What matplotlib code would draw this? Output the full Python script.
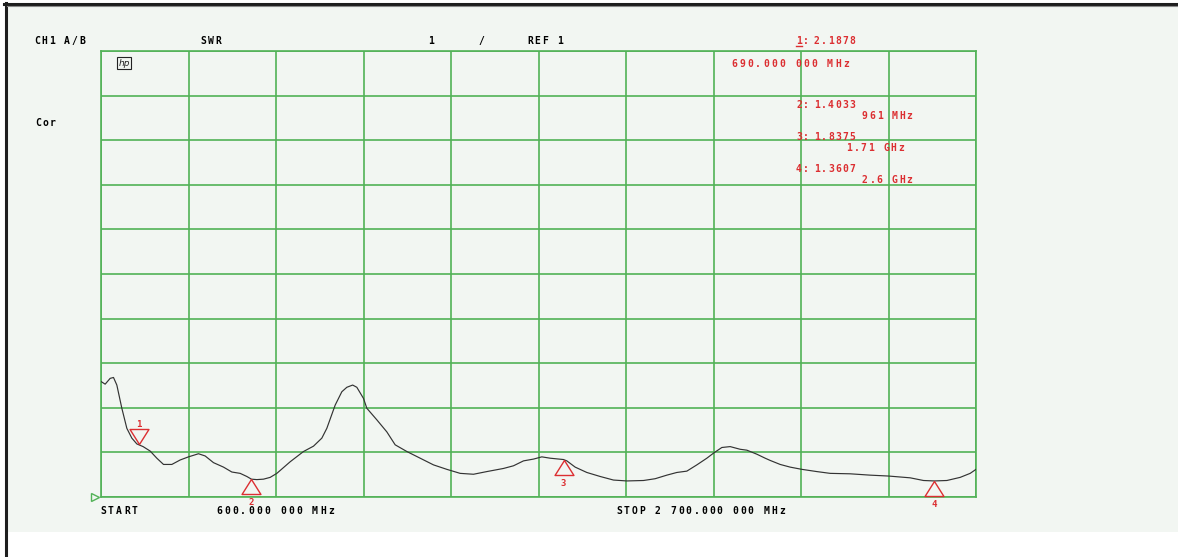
import matplotlib
matplotlib.use("Agg")
import matplotlib.pyplot as plt
import matplotlib.transforms as mtransforms
from matplotlib.patches import Rectangle
from matplotlib.lines import Line2D
from matplotlib.path import Path

# ---------------- data ----------------
freq_mhz = [600, 610, 622, 630, 638, 650, 662, 674, 686, 701, 718, 734, 750, 770, 790,
            810, 834, 850, 870, 894, 914, 934, 950, 961, 974, 990, 1006, 1022, 1054,
            1086, 1110, 1130, 1142, 1162, 1178, 1190, 1204, 1214, 1230, 1238, 1262,
            1286, 1306, 1334, 1366, 1398, 1430, 1462, 1494, 1526, 1566, 1590, 1614,
            1638, 1658, 1678, 1710, 1718, 1738, 1766, 1798, 1830, 1862, 1902, 1930,
            1958, 1982, 2006, 2030, 2054, 2071, 2090, 2110, 2134, 2150, 2174, 2194,
            2206, 2230, 2254, 2282, 2318, 2350, 2398, 2446, 2490, 2542, 2574, 2600,
            2630, 2662, 2686, 2700]
swr = [3.59, 3.53, 3.66, 3.68, 3.51, 2.99, 2.54, 2.32, 2.19, 2.13, 2.03, 1.87, 1.73,
       1.73, 1.83, 1.90, 1.97, 1.92, 1.77, 1.67, 1.56, 1.53, 1.46, 1.40, 1.39, 1.40,
       1.44, 1.53, 1.79, 2.02, 2.14, 2.32, 2.54, 3.06, 3.36, 3.46, 3.51, 3.46, 3.21,
       2.99, 2.73, 2.46, 2.17, 2.02, 1.87, 1.72, 1.62, 1.53, 1.51, 1.57, 1.64, 1.70,
       1.81, 1.85, 1.90, 1.87, 1.84, 1.81, 1.67, 1.55, 1.46, 1.38, 1.36, 1.37, 1.41,
       1.49, 1.55, 1.58, 1.72, 1.87, 1.99, 2.11, 2.13, 2.07, 2.05, 1.96, 1.87, 1.82,
       1.73, 1.67, 1.62, 1.57, 1.53, 1.52, 1.49, 1.47, 1.43, 1.37, 1.36, 1.37, 1.44,
       1.53, 1.62]

marker_ids = ["1", "2", "3", "4"]
marker_freq = [690, 961, 1710, 2600]
marker_swr = [2.1878, 1.4033, 1.8375, 1.3607]
marker_vals = ["2.1878", "1.4033", "1.8375", "1.3607"]
marker_freq_lbl = ["690.000 000 MHz", "961 MHz", "1.71 GHz", "2.6 GHz"]

start_mhz = 600
stop_mhz = 2700
ref_swr = 1
per_div = 1
n_div = 10

# ---------------- figure ----------------
W, H = 1178, 557
fig = plt.figure(figsize=(W / 100, H / 100), dpi=100)
fig.patch.set_facecolor("white")


def fx(x):
    return x / W


def fy(y):
    return 1 - y / H


bg = "#f2f6f2"
fig.add_artist(Rectangle((fx(7), fy(532)), 1 - fx(7), fy(5) - fy(532),
                         transform=fig.transFigure, facecolor=bg,
                         edgecolor="none", zorder=-5))
fig.add_artist(Line2D([fx(4), 1], [fy(4), fy(4)], transform=fig.transFigure,
                      color="#1e1e1e", lw=2.2, zorder=-4))
fig.add_artist(Line2D([fx(5.5), fx(5.5)], [0, fy(3)], transform=fig.transFigure,
                      color="#1e1e1e", lw=2.2, zorder=-4))
fig.add_artist(Line2D([fx(7), 1], [fy(6.2), fy(6.2)], transform=fig.transFigure,
                      color="#8a8a8a", lw=0.8, zorder=-4))

ax = fig.add_axes([fx(101), fy(497), fx(976) - fx(101), fy(51) - fy(497)])
ax.set_zorder(1)
ax.set_facecolor(bg)
green = "#52b257"
step = (stop_mhz - start_mhz) / n_div
ax.set_xlim(start_mhz, stop_mhz)
ax.set_ylim(ref_swr, ref_swr + per_div * n_div)
ax.set_xticks([start_mhz + i * step for i in range(n_div + 1)])
ax.set_yticks([ref_swr + i * per_div for i in range(n_div + 1)])
ax.grid(True, color=green, lw=1.2)
ax.set_axisbelow(True)
ax.tick_params(length=0, labelbottom=False, labelleft=False)
for s in ax.spines.values():
    s.set_color(green)
    s.set_linewidth(1.2)

ax.plot(freq_mhz, swr, color="#333333", lw=0.85, zorder=3)

red = "#dc2f32"
mono_font = "DejaVu Sans Mono"
up_tri = Path([(0, 0), (-0.63, -1), (0.63, -1), (0, 0)],
              [Path.MOVETO, Path.LINETO, Path.LINETO, Path.CLOSEPOLY])
down_tri = Path([(0, 0), (-0.63, 1), (0.63, 1), (0, 0)],
                [Path.MOVETO, Path.LINETO, Path.LINETO, Path.CLOSEPOLY])
for i, (mid, mf, ms_) in enumerate(zip(marker_ids, marker_freq, marker_swr)):
    if i == 0:
        ax.plot([mf], [ms_], marker=down_tri, ms=21.6, mfc="none", mec=red,
                mew=1.0, zorder=4)
        ax.annotate(mid, (mf, ms_), xytext=(0, 14), textcoords="offset points",
                    ha="center", va="center", color=red, fontsize=6.5,
                    fontweight="bold", family=mono_font)
    else:
        ax.plot([mf], [ms_], marker=up_tri, ms=21.6, mfc="none", mec=red,
                mew=1.0, zorder=4, clip_on=False)
        ax.annotate(mid, (mf, ms_), xytext=(0, -17), textcoords="offset points",
                    ha="center", va="center", color=red, fontsize=6.5,
                    fontweight="bold", family=mono_font,
                    annotation_clip=False)

# reference level marker at left edge
ref_tr = ax.transAxes + mtransforms.ScaledTranslation(-6 / 100, 0, fig.dpi_scale_trans)
ax.plot([0], [0], marker=">", ms=6, mfc="none", mec=green, mew=1.0,
        clip_on=False, transform=ref_tr, zorder=5)

# ---------------- texts (fixed character pitch like the analyzer font) ----------------


def t(x, y, s, color="black", size=7, pitch=7.9):
    for k, ch in enumerate(s):
        if ch == " ":
            continue
        fig.text(fx(x + k * pitch), fy(y), ch, color=color, family=mono_font,
                 fontweight="bold", fontsize=size, va="center", ha="left")


t(34, 41, "CH1 A/B", pitch=7.5)
t(200, 41, "SWR", pitch=7.5)
t(428, 41, "1")
t(478, 41, "/")
t(527, 41, "REF 1", pitch=7.5)
t(35, 123, "Cor", pitch=7.5)
t(100, 511, "START", pitch=8.0)
t(216, 511, "600.000 000 MHz", pitch=8.0)
t(616, 511, "STOP 2 700.000 000 MHz", pitch=7.75)

lbl_pos = [(796, 41, 731, 64), (796, 105, 862, 116), (796, 137, 846, 148),
           (796, 169, 862, 180)]
for mid, v, fl, (x1, y1, x2, y2) in zip(marker_ids, marker_vals, marker_freq_lbl, lbl_pos):
    t(x1, y1, mid + ":", color=red, pitch=7.0)
    t(x1 + 18, y1, v, color=red, pitch=7.0)
    t(x2, y2, fl, color=red, pitch=8.0 if len(fl) > 10 else 7.4)
# underline under the active marker number
fig.add_artist(Line2D([fx(796), fx(802)], [fy(46), fy(46)], transform=fig.transFigure,
                      color=red, lw=1.0))

# hp logo
fig.text(fx(124), fy(63), "hp", ha="center", va="center", fontsize=6.5,
         style="italic", family="DejaVu Sans", color="#222222",
         bbox=dict(boxstyle="square,pad=0.15", fc="none", ec="#222222", lw=0.8))

fig.savefig("out.png", dpi=100, facecolor=fig.get_facecolor())
